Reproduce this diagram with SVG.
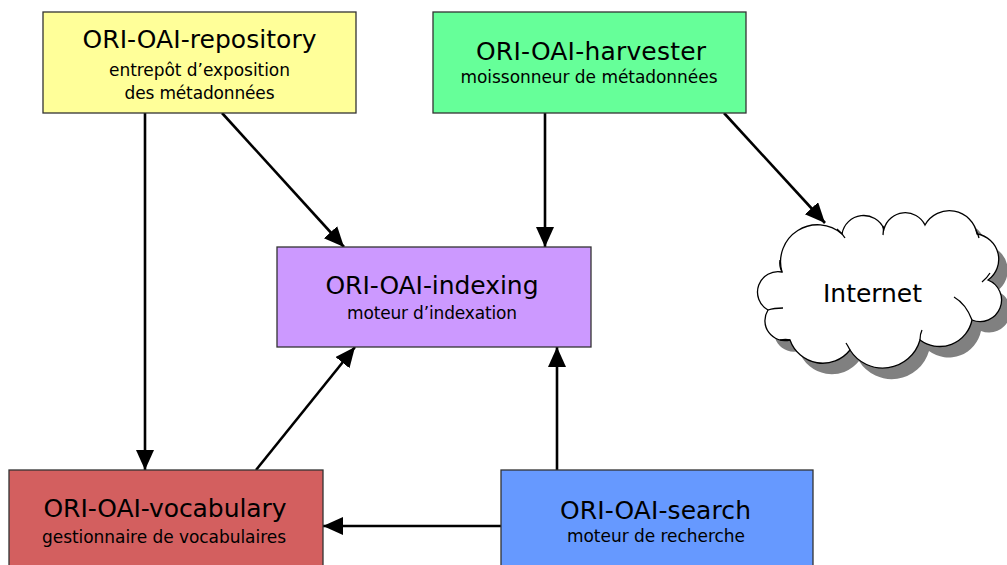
<svg xmlns="http://www.w3.org/2000/svg" width="1007" height="565" viewBox="0 0 1007 565">
<defs>
<marker id="ah" markerUnits="userSpaceOnUse" markerWidth="22" markerHeight="20" refX="20" refY="9" orient="auto">
<path d="M0,0 L20,9 L0,18 Z" fill="#000"/>
</marker>
<style>
.box{stroke:#333;stroke-width:1.3}
.t{font-family:'DejaVu Sans','Liberation Sans',sans-serif;font-size:25px;fill:#000;text-anchor:middle}
.s{font-family:'DejaVu Sans','Liberation Sans',sans-serif;font-size:17px;fill:#000;text-anchor:middle}
.c{fill:none;stroke:#000;stroke-width:2.6;marker-end:url(#ah)}
.hk{fill:none;stroke:#000;stroke-width:1.3}
</style>
</defs>
<rect width="1007" height="565" fill="#fff"/>
<g id="connectors">
<line class="c" x1="145" y1="113" x2="145" y2="470"/>
<line class="c" x1="222" y1="113" x2="344" y2="247"/>
<line class="c" x1="545" y1="113" x2="545" y2="247"/>
<line class="c" x1="724" y1="113" x2="825" y2="223"/>
<line class="c" x1="256" y1="470" x2="355" y2="347"/>
<line class="c" x1="557" y1="470" x2="557" y2="347"/>
<line class="c" x1="501" y1="526" x2="323" y2="526"/>
</g>
<g id="repository">
<rect class="box" x="43" y="12" width="313" height="101" fill="#FFFF99"/>
<text class="t" x="199.5" y="48" textLength="234">ORI-OAI-repository</text>
<text class="s" x="199.5" y="76" textLength="181">entrepôt d’exposition</text>
<text class="s" x="199.5" y="99" textLength="150">des métadonnées</text>
</g>
<g id="harvester">
<rect class="box" x="433" y="12" width="313" height="101" fill="#66FF99"/>
<text class="t" x="591" y="60" textLength="230">ORI-OAI-harvester</text>
<text class="s" x="589" y="83" textLength="257">moissonneur de métadonnées</text>
</g>
<g id="indexing">
<rect class="box" x="277" y="247" width="314" height="100" fill="#CC99FF"/>
<text class="t" x="432" y="294" textLength="213">ORI-OAI-indexing</text>
<text class="s" x="432" y="319" textLength="170">moteur d’indexation</text>
</g>
<g id="vocabulary">
<rect class="box" x="9" y="470" width="314" height="110" fill="#D35F5F"/>
<text class="t" x="165" y="517" textLength="243">ORI-OAI-vocabulary</text>
<text class="s" x="164" y="543" textLength="244">gestionnaire de vocabulaires</text>
</g>
<g id="search">
<rect class="box" x="501" y="470" width="312" height="110" fill="#6699FF"/>
<text class="t" x="655.5" y="519" textLength="191">ORI-OAI-search</text>
<text class="s" x="656" y="542" textLength="178">moteur de recherche</text>
</g>
<g id="internet">
<path transform="translate(9,11)" fill="#808080" d="M782,272 A37,37 0 0 1 842,234 A22,22 0 0 1 884,229 A22,22 0 0 1 925,225 A28,28 0 0 1 977,234 A25.5,25.5 0 0 1 988,280 A21.5,21.5 0 0 1 972,320 A33,33 0 0 1 920,340 A38.7,38.7 0 0 1 850,350 A34.7,34.7 0 0 1 790,340 A20,20 0 0 1 768,310 A20.5,20.5 0 0 1 782,272 Z"/>
<path fill="#fff" stroke="#000" stroke-width="1.3" d="M782,272 A37,37 0 0 1 842,234 A22,22 0 0 1 884,229 A22,22 0 0 1 925,225 A28,28 0 0 1 977,234 A25.5,25.5 0 0 1 988,280 A21.5,21.5 0 0 1 972,320 A33,33 0 0 1 920,340 A38.7,38.7 0 0 1 850,350 A34.7,34.7 0 0 1 790,340 A20,20 0 0 1 768,310 A20.5,20.5 0 0 1 782,272 Z"/>
<path class="hk" d="M837,229 Q842,233 845,238"/>
<path class="hk" d="M883,226 Q884,230 883,235"/>
<path class="hk" d="M976,230 Q978,234 979,238"/>
<path class="hk" d="M990,273 Q987,278 982,282"/>
<path class="hk" d="M954,297 Q966,304 972,320"/>
<path class="hk" d="M920,340 Q920,334 922,330"/>
<path class="hk" d="M850,350 Q848,346 846,343"/>
<path class="hk" d="M790,340 Q786,339 780,340"/>
<path class="hk" d="M768,310 Q774,308 783,308"/>
<path class="hk" d="M782,272 Q779,266 780,260"/>
<text x="872.5" y="302" font-family="'DejaVu Sans','Liberation Sans',sans-serif" font-size="25" text-anchor="middle" fill="#000" textLength="99">Internet</text>
</g>
</svg>
